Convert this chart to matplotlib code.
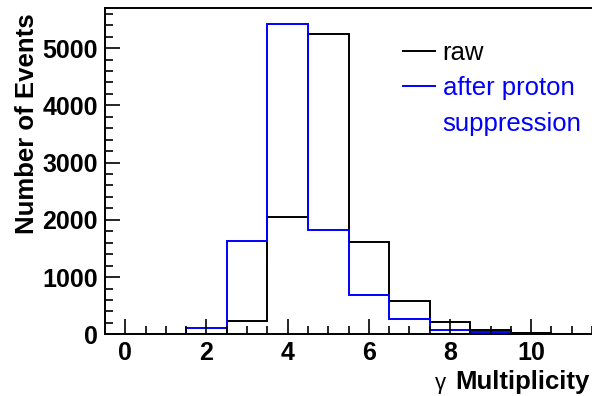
import matplotlib
matplotlib.use('Agg')
import matplotlib.pyplot as plt
import numpy as np
from matplotlib.lines import Line2D
from matplotlib.ticker import MultipleLocator

plt.rcParams['font.family'] = ['Liberation Sans', 'DejaVu Sans']

# gamma multiplicity histogram, unit bins centred on integers
bin_edges = np.arange(-0.5, 12.0, 1.0)
raw_counts = [0, 0, 5, 227, 2043, 5250, 1607, 587, 220, 75, 17, 3]
suppressed_counts = [0, 0, 105, 1635, 5420, 1821, 686, 267, 75, 35, 5, 0]

fig = plt.figure(figsize=(5.92, 3.96), dpi=100)
ax = fig.add_axes([105 / 592, 61.7 / 396, 1 - 105 / 592, (334.3 - 8) / 396])

ax.stairs(raw_counts, bin_edges, color='black', lw=1.4)
ax.stairs(suppressed_counts, bin_edges, color='#0000ff', lw=1.4)

ax.set_xlim(-0.5, 11.5)
ax.set_ylim(0, 5700)

ax.xaxis.set_major_locator(MultipleLocator(2))
ax.xaxis.set_minor_locator(MultipleLocator(0.5))
ax.yaxis.set_major_locator(MultipleLocator(1000))
ax.yaxis.set_minor_locator(MultipleLocator(200))
ax.tick_params(which='both', direction='in', top=False, right=False, width=1.2)
ax.tick_params(which='major', length=11, labelsize=18, pad=5)
ax.tick_params(which='minor', length=6)
for lab in ax.get_xticklabels() + ax.get_yticklabels():
    lab.set_fontweight('bold')
for s in ax.spines.values():
    s.set_linewidth(1.4)
ax.spines['right'].set_visible(False)

fig.text(27 / 592, 1 - 13 / 396, 'Number of Events', rotation=90, ha='center', va='top',
         fontsize=18.5, fontweight='bold')
fig.text(590 / 592, 1 - 382 / 396, 'Multiplicity', ha='right', va='center',
         fontsize=18.5, fontweight='bold')
fig.text(440 / 592, 1 - 384 / 396, 'γ', ha='center', va='center', fontsize=16)

handles = [Line2D([], [], color='black', lw=1.4),
           Line2D([], [], color='#0000ff', lw=1.4),
           Line2D([], [], color='none')]
labels = ['raw', 'after proton', 'suppression']
leg = ax.legend(handles, labels, loc='upper left', bbox_to_anchor=(390 / 592, 1 - 28 / 396),
                bbox_transform=fig.transFigure, frameon=False, fontsize=18.5,
                handlelength=1.25, handletextpad=0.3, labelspacing=0.45, borderpad=0)
for txt, c in zip(leg.get_texts(), ['black', '#0000ff', '#0000ff']):
    txt.set_color(c)

fig.savefig('out.png', dpi=100)
